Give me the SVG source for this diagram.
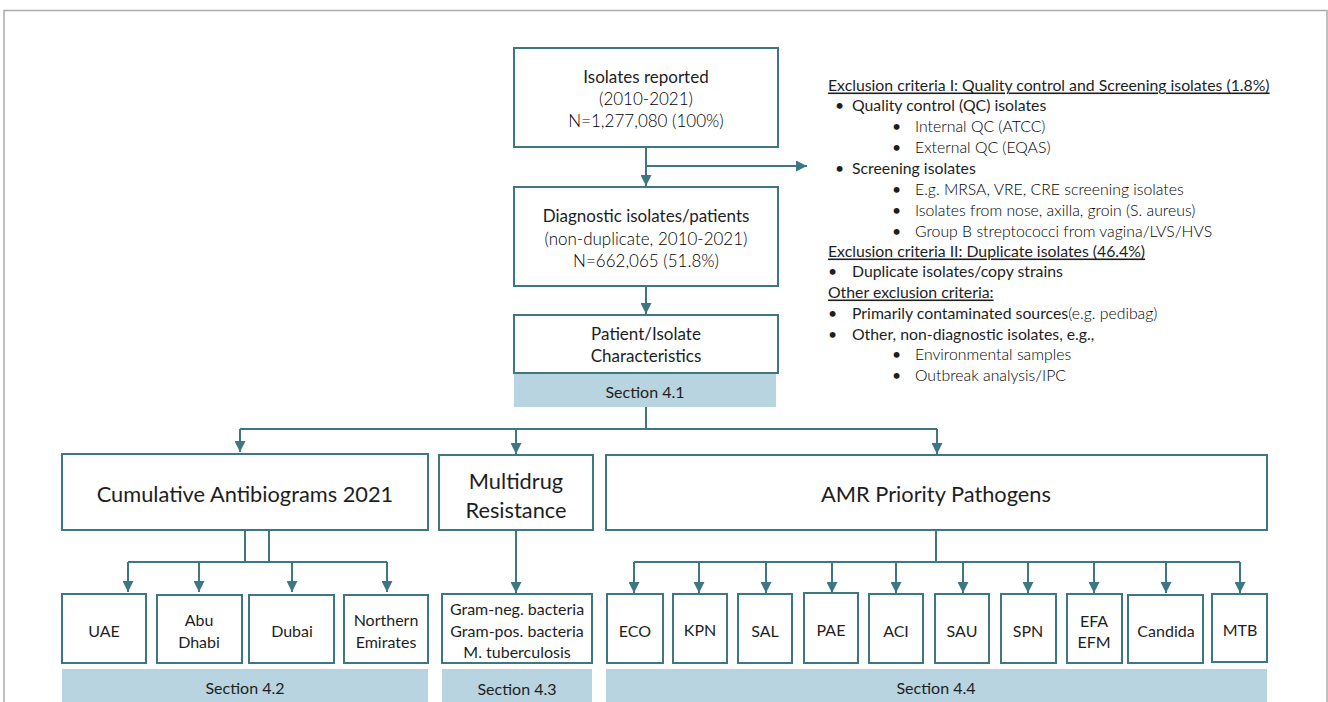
<svg xmlns="http://www.w3.org/2000/svg" width="1328" height="702" viewBox="0 0 1328 702">
<defs>
<marker id="ah" viewBox="0 0 10 10" refX="10" refY="5" markerWidth="5.5" markerHeight="5.5" orient="auto" markerUnits="strokeWidth">
<path d="M0,0 L10,5 L0,10 z" fill="#3e7784"/>
</marker>
<style>
.box{fill:#fff;stroke:#3e7784;stroke-width:2}
.band{fill:#b8d4e0}
.con{fill:none;stroke:#3e7784;stroke-width:2}
.arr{fill:none;stroke:#3e7784;stroke-width:2;marker-end:url(#ah)}
text{font-family:Lato,"Open Sans","Liberation Sans",sans-serif;fill:#1e1e1e;dominant-baseline:central}
.c{text-anchor:middle}
.m{font-size:17px}
.s{font-size:16px}
.g{fill:#000;font-weight:300}
.big{font-size:21.8px}
.r{font-size:15.8px}
.u{text-decoration:underline}
.l{fill:#000;font-weight:300}
</style>
</defs>
<rect x="4" y="10.5" width="1323" height="700" fill="#fff" stroke="#aaaaaa" stroke-width="1.5"/>

<g id="connectors">
<path class="arr" d="M646,147 V186"/>
<path class="arr" d="M646,166 H807"/>
<path class="arr" d="M646,286 V314"/>
<path class="con" d="M646,407 V429"/>
<path class="con" d="M240,429 H937"/>
<path class="arr" d="M240,429 V452"/>
<path class="arr" d="M516,429 V454"/>
<path class="arr" d="M937,429 V454"/>
<path class="con" d="M245,530 V562 M269,530 V562"/>
<path class="con" d="M128,562 H387"/>
<path class="arr" d="M128,562 V592"/>
<path class="arr" d="M199,562 V592"/>
<path class="arr" d="M292,562 V592"/>
<path class="arr" d="M387,562 V592"/>
<path class="arr" d="M516,530 V593"/>
<path class="con" d="M936,530 V562"/>
<path class="con" d="M634,562 H1240"/>
<path class="arr" d="M634,562 V593"/>
<path class="arr" d="M699,562 V593"/>
<path class="arr" d="M766,562 V593"/>
<path class="arr" d="M832,562 V593"/>
<path class="arr" d="M896,562 V593"/>
<path class="arr" d="M963,562 V593"/>
<path class="arr" d="M1028,562 V593"/>
<path class="arr" d="M1094,562 V593"/>
<path class="arr" d="M1166,562 V593"/>
<path class="arr" d="M1240,562 V593"/>
</g>

<g id="isolates-reported">
<rect class="box" x="514" y="48" width="264" height="99"/>
<text class="c m" x="646" y="76">Isolates reported</text>
<text class="c m g" x="646" y="98">(2010-2021)</text>
<text class="c m g" x="646" y="120">N=1,277,080  (100%)</text>
</g>

<g id="diagnostic">
<rect class="box" x="514" y="187" width="264" height="99"/>
<text class="c m" x="646" y="215">Diagnostic isolates/patients</text>
<text class="c m g" x="646" y="238">(non-duplicate, 2010-2021)</text>
<text class="c m g" x="646" y="260">N=662,065 (51.8%)</text>
</g>

<g id="patient">
<rect class="box" x="514" y="315" width="264" height="58"/>
<text class="c m" x="646" y="333">Patient/Isolate</text>
<text class="c m" x="646" y="355">Characteristics</text>
<rect class="band" x="514" y="374" width="262" height="33"/>
<text class="c s" x="645" y="391">Section 4.1</text>
</g>

<g id="exclusion">
<text class="r u" x="828" y="84">Exclusion criteria  I: Quality control and Screening isolates (1.8%)</text>
<text class="r" x="835" y="104">•</text><text class="r" x="852" y="104">Quality control (QC) isolates</text>
<text class="r" x="892" y="125">•</text><text class="r l" x="915" y="125">Internal QC (ATCC)</text>
<text class="r" x="892" y="146">•</text><text class="r l" x="915" y="146">External QC (EQAS)</text>
<text class="r" x="835" y="167">•</text><text class="r" x="852" y="167">Screening isolates</text>
<text class="r" x="892" y="188">•</text><text class="r l" x="915" y="188">E.g. MRSA, VRE, CRE screening isolates</text>
<text class="r" x="892" y="209">•</text><text class="r l" x="915" y="209">Isolates from nose, axilla,  groin (S. aureus)</text>
<text class="r" x="892" y="230">•</text><text class="r l" x="915" y="230">Group B streptococci from vagina/LVS/HVS</text>
<text class="r u" x="828" y="250">Exclusion criteria II: Duplicate isolates  (46.4%)</text>
<text class="r" x="828" y="270">•</text><text class="r" x="852" y="270">Duplicate isolates/copy strains</text>
<text class="r u" x="828" y="291">Other exclusion criteria:</text>
<text class="r" x="828" y="312">•</text><text class="r" x="852" y="312">Primarily contaminated sources<tspan class="l">(e.g. pedibag)</tspan></text>
<text class="r" x="828" y="333">•</text><text class="r" x="852" y="333">Other, non-diagnostic isolates, e.g.,</text>
<text class="r" x="892" y="353">•</text><text class="r l" x="915" y="353">Environmental  samples</text>
<text class="r" x="892" y="374">•</text><text class="r l" x="915" y="374">Outbreak analysis/IPC</text>
</g>

<g id="cumulative">
<rect class="box" x="62" y="454" width="366" height="76"/>
<text class="c big" x="245" y="493">Cumulative Antibiograms 2021</text>
</g>
<g id="mdr">
<rect class="box" x="439" y="455" width="154" height="75"/>
<text class="c big" x="516" y="480">Multidrug</text>
<text class="c big" x="516" y="509">Resistance</text>
</g>
<g id="amr">
<rect class="box" x="606" y="455" width="661" height="75"/>
<text class="c big" x="936" y="493">AMR Priority Pathogens</text>
</g>

<g id="uae"><rect class="box" x="62" y="594" width="84" height="69"/><text class="c s" x="104" y="630">UAE</text></g>
<g id="abu-dhabi"><rect class="box" x="157" y="595" width="85" height="68"/><text class="c s" x="199" y="619">Abu</text><text class="c s" x="199" y="641">Dhabi</text></g>
<g id="dubai"><rect class="box" x="249" y="595" width="85" height="68"/><text class="c s" x="292" y="630">Dubai</text></g>
<g id="northern"><rect class="box" x="344" y="595" width="84" height="68"/><text class="c s" x="386" y="619">Northern</text><text class="c s" x="386" y="641">Emirates</text></g>
<g id="section42"><rect class="band" x="62" y="669" width="366" height="33"/><text class="c s" x="245" y="687">Section 4.2</text></g>

<g id="gram"><rect class="box" x="442" y="594" width="150" height="69"/>
<text class="c s" x="517" y="608">Gram-neg. bacteria</text>
<text class="c s" x="517" y="630">Gram-pos. bacteria</text>
<text class="c s" x="517" y="651">M. tuberculosis</text></g>
<g id="section43"><rect class="band" x="442" y="669" width="150" height="33"/><text class="c s" x="517" y="688">Section 4.3</text></g>

<g id="eco"><rect class="box" x="607" y="594" width="56" height="69"/><text class="c s" x="635" y="630">ECO</text></g>
<g id="kpn"><rect class="box" x="673" y="594" width="54" height="69"/><text class="c s" x="700" y="629">KPN</text></g>
<g id="sal"><rect class="box" x="738" y="594" width="54" height="69"/><text class="c s" x="765" y="630">SAL</text></g>
<g id="pae"><rect class="box" x="804" y="593" width="54" height="70"/><text class="c s" x="831" y="629">PAE</text></g>
<g id="aci"><rect class="box" x="869" y="594" width="54" height="69"/><text class="c s" x="896" y="630">ACI</text></g>
<g id="sau"><rect class="box" x="935" y="594" width="54" height="69"/><text class="c s" x="962" y="630">SAU</text></g>
<g id="spn"><rect class="box" x="1001" y="594" width="55" height="69"/><text class="c s" x="1028" y="630">SPN</text></g>
<g id="efa"><rect class="box" x="1067" y="594" width="55" height="69"/><text class="c s" x="1094" y="620">EFA</text><text class="c s" x="1094" y="641">EFM</text></g>
<g id="candida"><rect class="box" x="1128" y="595" width="75" height="68"/><text class="c s" x="1166" y="630">Candida</text></g>
<g id="mtb"><rect class="box" x="1212" y="594" width="55" height="68"/><text class="c s" x="1240" y="629">MTB</text></g>
<g id="section44"><rect class="band" x="606" y="669" width="661" height="33"/><text class="c s" x="936" y="687">Section 4.4</text></g>
</svg>
